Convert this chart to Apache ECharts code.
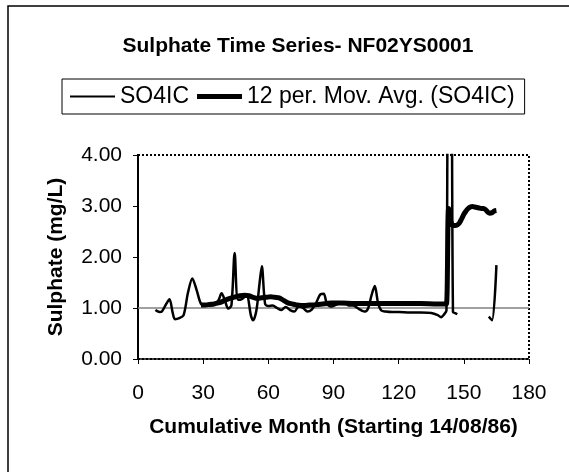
<!DOCTYPE html>
<html>
<head>
<meta charset="utf-8">
<script src="https://cdn.jsdelivr.net/npm/echarts@6/dist/echarts.min.js"></script>
<style>html,body{margin:0;padding:0;background:#fff;}#c{width:569px;height:472px;}</style>
</head>
<body>
<div id="c"></div>
<script>
// Raw SO4IC samples (cumulative month, mg/L); null = no data
const rawMonths = [8, 10, 11, 13, 14.5, 16, 17, 19, 21, 23, 25, 27, 29, 31, 33, 35, 37, 38.5, 40, 41.5, 43, 44.5, 46, 48, 50, 52, 53, 54.5, 56, 57, 58.5, 60, 62, 64, 66, 68, 70, 72, 74, 76, 78, 80, 82, 84, 85.5, 87, 89, 91, 93, 95, 97, 99, 101, 103, 104.5, 106, 107.5, 109, 110.5, 112, 114, 117, 120, 125, 130, 135, 138, 139.5, 141, 142, 143, 144, 145, 146, 147, 154, 161.5, 163, 165];
const rawValues = [0.96, 0.92, 0.93, 1.08, 1.17, 0.90, 0.78, 0.80, 0.86, 1.30, 1.58, 1.35, 1.08, 1.05, 1.05, 1.07, 1.15, 1.29, 1.15, 0.99, 1.05, 2.08, 1.16, 1.18, 1.25, 0.85, 0.76, 0.95, 1.50, 1.82, 1.08, 1.04, 1.05, 1.00, 0.96, 1.02, 0.96, 0.93, 1.03, 1.00, 0.93, 0.97, 1.10, 1.27, 1.28, 1.08, 1.03, 1.06, 1.10, 1.12, 1.05, 1.05, 1.00, 0.95, 0.93, 1.00, 1.25, 1.43, 1.10, 0.95, 0.93, 0.92, 0.92, 0.91, 0.91, 0.90, 0.86, 0.82, 0.88, 0.95, 8.0, 8.0, 0.92, 0.90, 0.88, null, 0.83, 0.76, 1.84];
// 12 period moving average
const maMonths = [29, 31, 33, 35, 37, 39, 41, 43, 45, 47, 49, 51, 53, 55, 57, 59, 61, 63, 65, 67, 69, 71, 73, 75, 77, 79, 81, 83, 85, 87, 89, 91, 93, 100, 110, 120, 130, 138, 141, 142, 143, 144, 145, 146, 147, 148, 149, 150, 151, 152, 153, 154, 155, 156, 157, 158, 159, 160, 161, 162, 163, 164, 165];
const maValues = [1.06, 1.06, 1.07, 1.08, 1.10, 1.13, 1.17, 1.20, 1.22, 1.24, 1.25, 1.24, 1.21, 1.19, 1.20, 1.21, 1.22, 1.21, 1.20, 1.15, 1.10, 1.08, 1.06, 1.05, 1.05, 1.06, 1.06, 1.07, 1.08, 1.09, 1.10, 1.10, 1.10, 1.09, 1.09, 1.09, 1.09, 1.08, 1.08, 1.08, 2.95, 2.70, 2.62, 2.62, 2.63, 2.67, 2.75, 2.84, 2.90, 2.95, 2.98, 2.99, 2.98, 2.97, 2.96, 2.95, 2.95, 2.93, 2.88, 2.86, 2.87, 2.90, 2.91];
const xTicks = [0, 30, 60, 90, 120, 150, 180];
const yTicks = [0, 1, 2, 3, 4];
const refLevel = 1.0;

const FONT = '"Liberation Sans", Arial, sans-serif';
const rawData = rawMonths.map((m, i) => [m, rawValues[i] === null ? '-' : rawValues[i]]);
const maData = maMonths.map((m, i) => [m, maValues[i]]);

const chart = echarts.init(document.getElementById('c'));
chart.setOption({
  backgroundColor: '#fff',
  animation: false,
  textStyle: { fontFamily: FONT, color: '#000' },
  title: {
    text: 'Sulphate Time Series- NF02YS0001',
    left: 293, top: 31, textAlign: 'center',
    textStyle: { fontFamily: FONT, fontSize: 21, fontWeight: 'bold', color: '#000' }
  },
  legend: {
    left: 62, top: 79,
    padding: [6, 10, 6, 8],
    itemGap: 8, itemWidth: 45, itemHeight: 10,
    borderColor: '#000', borderWidth: 1,
    textStyle: { fontFamily: FONT, fontSize: 23, color: '#000' },
    data: [
      { name: 'SO4IC', icon: 'path://M0,0h45v2h-45z' },
      { name: '12 per. Mov. Avg. (SO4IC)', icon: 'path://M0,0h45v5h-45z' }
    ]
  },
  graphic: [{
    type: 'polyline', silent: true,
    shape: { points: [[8, 472], [8, 6], [569, 6]] },
    style: { stroke: '#000', lineWidth: 1.5, fill: null }
  }],
  grid: {
    left: 138, right: 40, top: 155, bottom: 113,
    show: true, borderColor: '#000', borderWidth: 2, borderType: 'dotted', backgroundColor: 'transparent'
  },
  xAxis: {
    type: 'value', min: xTicks[0], max: xTicks[xTicks.length - 1], interval: 30,
    name: 'Cumulative Month (Starting 14/08/86)', nameLocation: 'middle', nameGap: 58,
    nameTextStyle: { fontFamily: FONT, fontSize: 21, fontWeight: 'bold', color: '#000' },
    axisLine: { lineStyle: { color: '#000', width: 2, type: 'dotted' } },
    axisTick: { show: true, length: 5, lineStyle: { color: '#000', width: 1 } },
    axisLabel: { fontFamily: FONT, fontSize: 21, color: '#000', margin: 24 },
    splitLine: { show: false }
  },
  yAxis: {
    type: 'value', min: yTicks[0], max: yTicks[yTicks.length - 1], interval: 1,
    name: 'Sulphate (mg/L)', nameLocation: 'middle', nameGap: 71,
    nameTextStyle: { fontFamily: FONT, fontSize: 21, fontWeight: 'bold', color: '#000' },
    axisLine: { show: true, lineStyle: { color: '#000', width: 2, type: 'dotted' } },
    axisTick: { show: true, length: 5, lineStyle: { color: '#000', width: 1 } },
    axisLabel: { fontFamily: FONT, fontSize: 21, color: '#000', margin: 16, formatter: v => v.toFixed(2) },
    splitLine: { show: false }
  },
  series: [
    {
      name: 'SO4IC', type: 'line', data: rawData, showSymbol: false, symbol: 'none',
      smooth: 0.3, connectNulls: false, clip: true,
      lineStyle: { color: '#000', width: 2.5 }, itemStyle: { color: '#000' },
      markLine: {
        silent: true, symbol: ['none', 'none'], label: { show: false },
        lineStyle: { color: '#808080', width: 1.5, type: 'solid' },
        data: [{ yAxis: refLevel }], z: 1
      },
      z: 3
    },
    {
      name: '12 per. Mov. Avg. (SO4IC)', type: 'line', data: maData, showSymbol: false, symbol: 'none',
      smooth: 0.3, clip: true,
      lineStyle: { color: '#000', width: 5 }, itemStyle: { color: '#000' },
      z: 4
    }
  ]
});
</script>
</body>
</html>
